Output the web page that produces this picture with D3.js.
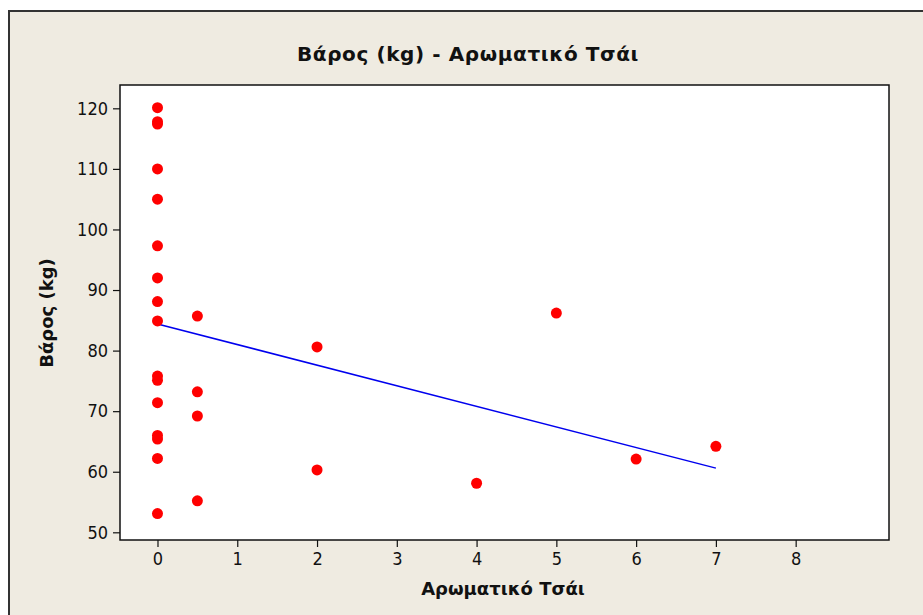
<!DOCTYPE html>
<html>
<head>
<meta charset="utf-8">
<script src="https://cdn.jsdelivr.net/npm/d3@7"></script>
<style>
  body { margin:0; background:#fff; }
  text { font-family: "DejaVu Sans", sans-serif; }
</style>
</head>
<body>
<svg id="chart" width="923" height="615"></svg>
<script>
// data
const tea    = [0,0,0,0,0,0,0,0,0,0,0,0,0,0,0,0, 0.5,0.5,0.5,0.5, 2,2, 4, 5, 6, 7]
const weight = [120.1,117.8,117.4,110,105,97.3,92,88.1,84.9,75.8,75.1,71.4,66.0,65.4,62.2,53.1,
                85.7,73.2,69.2,55.2, 80.6,60.3, 58.1, 86.2, 62.1, 64.2]
// fitted line end points (as drawn)
const fitX = [0, 7]
const fitY = [84.4, 60.6]
const xTicks = [0,1,2,3,4,5,6,7,8]
const yTicks = [50,60,70,80,90,100,110,120]

const svg = d3.select('#chart')

// outer panel
svg.append('rect').attr('x',9).attr('y',11).attr('width',930).attr('height',620)
  .attr('fill','#efebe1').attr('stroke','#333').attr('stroke-width',2)

const pL = 120, pR = 889, pT = 85, pB = 540
const x = d3.scaleLinear().domain([-0.47, 9.17]).range([pL, pR])
const y = d3.scaleLinear().domain([48.73, 123.85]).range([pB, pT])

svg.append('rect').attr('x',pL).attr('y',pT).attr('width',pR-pL).attr('height',pB-pT)
  .attr('fill','#fff').attr('stroke','#111').attr('stroke-width',1.5)

// axes
const gx = svg.append('g').attr('transform',`translate(0,${pB})`)
  .call(d3.axisBottom(x).tickValues(xTicks).tickSize(7).tickPadding(5).tickFormat(d3.format('d')))
const gy = svg.append('g').attr('transform',`translate(${pL},0)`)
  .call(d3.axisLeft(y).tickValues(yTicks).tickSize(7).tickPadding(5))
;[gx,gy].forEach(g => {
  g.select('.domain').remove()
  g.selectAll('line').attr('stroke','#111').attr('stroke-width',1.2)
  g.selectAll('text').attr('font-size',18).attr('fill','#111')
    .style('font-family','"DejaVu Sans Condensed", "DejaVu Sans", sans-serif')
})

// fit line
const line = d3.line().x(d => x(d[0])).y(d => y(d[1]))
svg.append('path').datum(d3.zip(fitX, fitY))
  .attr('fill','none').attr('stroke','#0000ee').attr('stroke-width',1.5).attr('d', line)

// points
svg.append('g').selectAll('circle').data(d3.zip(tea, weight)).join('circle')
  .attr('cx', d => x(d[0])).attr('cy', d => y(d[1])).attr('r', 5.5).attr('fill','#ff0000')

// titles
svg.append('text').attr('x',468).attr('y',61).attr('text-anchor','middle')
  .attr('font-size',20).attr('font-weight','bold').attr('fill','#111')
  .attr('letter-spacing',0.6)
  .text('Βάρος (kg) - Αρωματικό Τσάι')
svg.append('text').attr('x',503).attr('y',595).attr('text-anchor','middle')
  .attr('font-size',18).attr('font-weight','bold').attr('fill','#111')
  .text('Αρωματικό Τσάι')
svg.append('text').attr('transform','translate(53,313) rotate(-90)').attr('text-anchor','middle')
  .attr('font-size',18).attr('font-weight','bold').attr('fill','#111')
  .text('Βάρος (kg)')
</script>
</body>
</html>
